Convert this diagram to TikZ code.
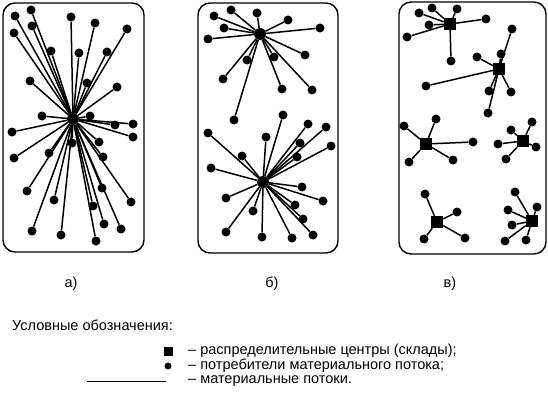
\documentclass[tikz,border=0pt]{standalone}
\usepackage{fontspec}
\setmainfont{Liberation Sans}
\usetikzlibrary{positioning}

\begin{document}
\begin{tikzpicture}[x=1pt,y=-1pt,font=\fontsize{14.5}{16}\selectfont,
   dot/.style={circle,fill,inner sep=0pt,minimum size=9pt},
   hub/.style={circle,fill,inner sep=0pt,minimum size=12pt},
   depot/.style={rectangle,fill,inner sep=0pt,minimum size=12pt},
   flow/.style={line width=1.5pt},
   frame/.style={line width=1.4pt,rounded corners=12pt},
   legtext/.style={anchor=west,inner sep=0pt}]
  \useasboundingbox (0,0) rectangle (548,401);
  % frames
  \draw[frame] (3,3) rectangle (144,252);
  \draw[frame] (198,3) rectangle (338,253);
  \draw[frame] (399,2) rectangle (546,254);
  % a) one centre
  \node[hub] (ha) at (73,119) {};
  \foreach \x/\y [count=\i] in {15/16,31/10,14/33,32/26,71/17,95/23,127/29,51/51,79/53,107/52,
      30/81,87/83,117/87,42/116,90/116,115/125,133/124,133/137,12/132,72/143,99/142,14/158,
      49/153,103/157,27/191,102/188,54/200,93/206,131/202,104/224,121/229,32/231,61/235,96/241}
  {
    \node[dot] (a\i) at (\x,\y) {};
    \draw[flow] (ha) -- (a\i);
  }
  % b) two centres
  \node[hub] (hb1) at (260,34) {};
  \foreach \x/\y [count=\i] in {214/16,231/10,257/13,288/20,320/28,224/28,208/39,247/60,274/57,
      305/55,223/79,282/89,312/90,234/120}
  {
    \node[dot] (b\i) at (\x,\y) {};
    \draw[flow] (hb1) -- (b\i);
  }
  \node[hub] (hb2) at (263,182) {};
  \foreach \x/\y [count=\i] in {283/115,308/124,326/127,208/133,266/137,300/143,331/146,242/156,
      297/157,211/168,302/187,323/201,226/198,295/205,253/211,303/219,226/232,262/237,292/238,313/235}
  {
    \node[dot] (bb\i) at (\x,\y) {};
    \draw[flow] (hb2) -- (bb\i);
  }
  % c) several centres
  \node[depot] (c1) at (450,24) {};
  \foreach \x/\y [count=\i] in {419/13,432/8,457/9,429/25,407/37,486/19,451/61}
  {
    \node[dot] (ca\i) at (\x,\y) {};
    \draw[flow] (c1) -- (ca\i);
  }
  \node[depot] (c2) at (499,69) {};
  \foreach \x/\y [count=\i] in {512/29,477/57,501/54,426/86,489/91,511/92,488/113}
  {
    \node[dot] (cb\i) at (\x,\y) {};
    \draw[flow] (c2) -- (cb\i);
  }
  \node[depot] (c3) at (426,144) {};
  \foreach \x/\y [count=\i] in {404/126,436/119,473/142,409/162,453/160}
  {
    \node[dot] (cc\i) at (\x,\y) {};
    \draw[flow] (c3) -- (cc\i);
  }
  \node[depot] (c4) at (523,141) {};
  \foreach \x/\y [count=\i] in {511/130,532/122,498/144,536/147,506/159}
  {
    \node[dot] (cd\i) at (\x,\y) {};
    \draw[flow] (c4) -- (cd\i);
  }
  \node[depot] (c5) at (437,222) {};
  \foreach \x/\y [count=\i] in {425/194,457/212,424/239,465/238}
  {
    \node[dot] (ce\i) at (\x,\y) {};
    \draw[flow] (c5) -- (ce\i);
  }
  \node[depot] (c6) at (532,221) {};
  \foreach \x/\y [count=\i] in {515/192,537/207,508/210,512/225,505/241,526/240}
  {
    \node[dot] (cf\i) at (\x,\y) {};
    \draw[flow] (c6) -- (cf\i);
  }
  % captions
  \node (capa) at (71,284) {а)};
  \node (capb) at (272,284) {б)};
  \node (capc) at (450,284) {в)};
  % legend
  \node[legtext] (legend) at (12,325) {Условные обозначения:};
  \node[depot,minimum size=9pt] (lsq) at (168,351) {};
  \node[legtext] (lt1) at (188,351) {– распределительные центры (склады);};
  \node[dot,minimum size=7pt] (ldot) at (168,366) {};
  \node[legtext] (lt2) at (188,366) {– потребители материального потока;};
  \coordinate (ll1) at (87,381);
  \coordinate (ll2) at (166,381);
  \draw[line width=1pt] (ll1) -- (ll2);
  \node[legtext] (lt3) at (188,381) {– материальные потоки.};
\end{tikzpicture}
\end{document}
